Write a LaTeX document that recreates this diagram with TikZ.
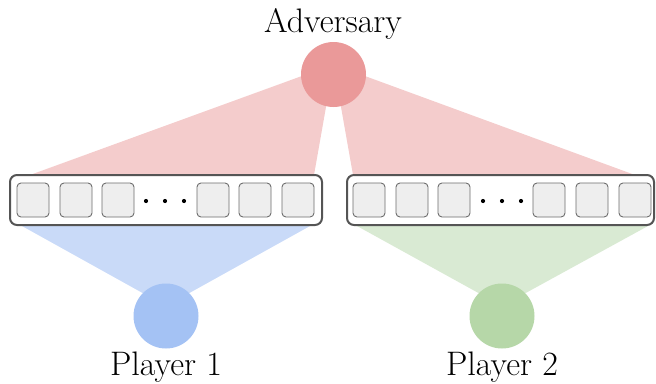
\documentclass[tikz,border=0pt]{standalone}
\usetikzlibrary{calc}
\definecolor{advc}{HTML}{EA9999}
\definecolor{advf}{HTML}{F4CCCC}
\definecolor{p1c}{HTML}{A4C2F4}
\definecolor{p1f}{HTML}{C9DAF8}
\definecolor{p2c}{HTML}{B6D7A8}
\definecolor{p2f}{HTML}{D9EAD3}
\definecolor{boxline}{HTML}{555555}
\definecolor{cellline}{HTML}{6E6E6E}
\definecolor{cellfill}{HTML}{EEEEEE}
\begin{document}
\begin{tikzpicture}[x=1pt,y=-1pt,
  agent/.style={circle,minimum size=65pt,inner sep=0pt},
  lbl/.style={font=\fontsize{34}{40}\selectfont,inner sep=0pt},
  outerbox/.style={draw=boxline,line width=2pt,fill=white,rounded corners=7pt,minimum height=50pt,inner sep=0pt},
  cell/.style={draw=cellline,line width=0.9pt,fill=cellfill,rounded corners=4pt,minimum width=32pt,minimum height=34pt,inner sep=0pt},
  dotc/.style={circle,fill=black,minimum size=4.2pt,inner sep=0pt}]
\useasboundingbox (0,0) rectangle (656,383);
% agents (positions)
\coordinate (advpos) at (333.5,74.5);
\coordinate (p1pos) at (166,316);
\coordinate (p2pos) at (502,316);
% fans
\fill[advf] ($(advpos)+(0,-10)$) -- (30,175) -- (314,175) -- cycle;
\fill[advf] ($(advpos)+(0,-10)$) -- (353,175) -- (635,175) -- cycle;
\fill[p1f] ($(p1pos)+(0,-10)$) -- (22,226) -- (310,226) -- cycle;
\fill[p2f] ($(p2pos)+(0,-10)$) -- (357,226) -- (648,226) -- cycle;
% boxes
\node[outerbox,minimum width=312pt] (boxL) at (166,200) {};
\node[outerbox,minimum width=307pt] (boxR) at (500.5,200) {};
% cells left
\foreach \x/\n in {33/1,76/2,118/3,213/4,255/5,298/6}
  \node[cell] (L\n) at (\x,200) {};
\foreach \x/\n in {146/1,165/2,184/3}
  \node[dotc] (Ld\n) at (\x,201) {};
% cells right
\foreach \x/\n in {369/1,412/2,454/3,549/4,592/5,635/6}
  \node[cell] (R\n) at (\x,200) {};
\foreach \x/\n in {483/1,502/2,521/3}
  \node[dotc] (Rd\n) at (\x,201) {};
% agents
\node[agent,fill=advc] (adv) at (advpos) {};
\node[agent,fill=p1c] (p1) at (p1pos) {};
\node[agent,fill=p2c] (p2) at (p2pos) {};
% labels
\node[lbl,anchor=base] (advl) at (333,32) {Adversary};
\node[lbl,anchor=base] (p1l) at (166,375) {Player 1};
\node[lbl,anchor=base] (p2l) at (502,375) {Player 2};
\end{tikzpicture}
\end{document}
